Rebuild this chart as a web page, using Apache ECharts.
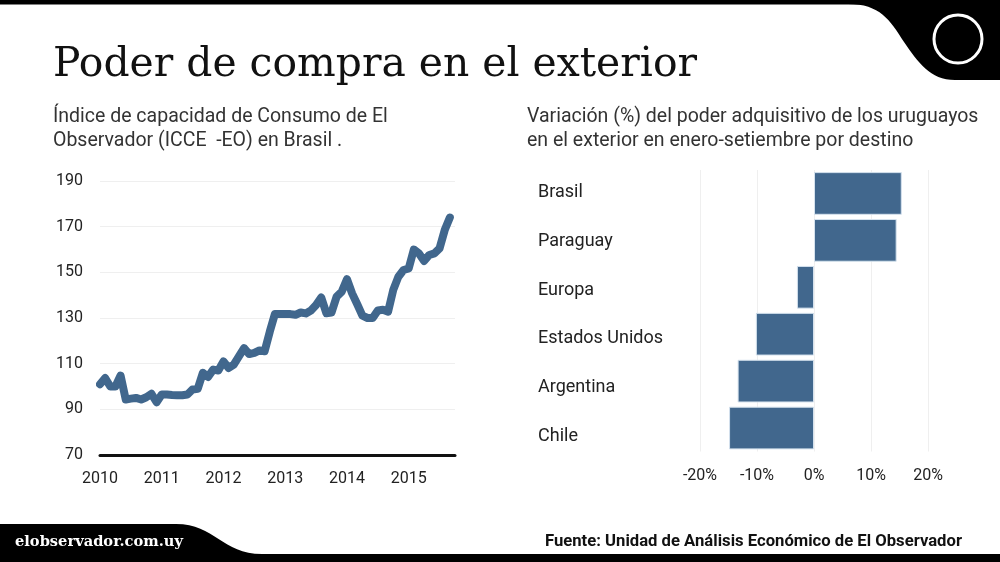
<!DOCTYPE html>
<html>
<head>
<meta charset="utf-8">
<script src="https://cdn.jsdelivr.net/npm/echarts@6/dist/echarts.min.js"></script>
<style>
  html, body { margin: 0; padding: 0; background: #fff; }
  #chart { width: 1000px; height: 562px; }
</style>
</head>
<body>
<div id="chart"></div>
<script>
// ---------- DATA ----------
const yearTicks = ['2010', '2011', '2012', '2013', '2014', '2015'];
const iccValues = [
  101, 103.7, 100, 100, 104.8, 94.3, 94.7, 95, 94.3, 95.3, 96.8, 93.1,
  96.5, 96.5, 96.3, 96.2, 96.2, 96.5, 98.7, 99, 106, 104.2, 107.4, 107,
  111, 108.1, 109.6, 113.2, 116.8, 114.2, 114.7, 115.8, 115.4, 124, 131.8, 131.8,
  131.8, 131.7, 131.4, 132.4, 132, 133.3, 135.7, 139, 132.1, 132.4, 139.4, 141.6,
  147, 140.8, 136, 131, 130, 130, 133.3, 133.6, 132.8, 142.3, 148.1, 151,
  151.7, 160, 158.3, 155, 157.6, 158.3, 160.5, 168.5, 174
];
const destinations = ['Brasil', 'Paraguay', 'Europa', 'Estados Unidos', 'Argentina', 'Chile'];
const variation = [15.4, 14.5, -3.0, -10.2, -13.4, -14.9];

// month categories Jan 2010 .. Oct 2015
const months = [];
yearTicks.forEach(y => { for (let m = 1; m <= 12; m++) months.push(y + '-' + (m < 10 ? '0' + m : m)); });
const monthCats = months.slice(0, 70);

// ---------- helpers ----------
const mctx = document.createElement('canvas').getContext('2d');
function fitScale(text, font, target) {
  mctx.font = font;
  const w = mctx.measureText(text).width;
  return w > 0 ? target / w : 1;
}

// decorative shapes (header corner, footer band)
echarts.graphic.registerShape('hdrShape', echarts.graphic.extendPath(
  'M840,0 L1000,0 L1000,80 L955,80 C930,80 918,62 904,42 C890,20 880,4 848,4 Z', {}));
echarts.graphic.registerShape('ftrShape', echarts.graphic.extendPath(
  'M0,524 L176,524 C215,524 222,554 262,554 L1000,554 L1000,562 L0,562 Z', {}));

const TITLE = 'Poder de compra en el exterior';
const titleFont = '41px "DejaVu Serif"';
const SITE = 'elobservador.com.uy';
const siteFont = 'bold 15px "DejaVu Serif"';
const SRC = 'Fuente: Unidad de Análisis Económico de El Observador';
const srcFont = 'bold 17px Roboto';
const subFont = '19.5px Roboto';

const blue = '#41678d';
const txt = '#222';

const chart = echarts.init(document.getElementById('chart'), null, { renderer: 'canvas' });

const option = {
  backgroundColor: '#fff',
  animation: false,
  grid: [
    { left: 100, right: 545, top: 181, bottom: 107 },
    { left: 700, right: 72, top: 170, bottom: 110.5 },
    // label track for the destination names (slightly wider spacing than bars, as in the source)
    { left: 700, right: 72, top: 168.4, bottom: 101.5 }
  ],
  xAxis: [
    {
      type: 'category', gridIndex: 0, data: monthCats, boundaryGap: false,
      axisLine: { lineStyle: { color: '#111', width: 3 } },
      axisTick: { show: false },
      axisLabel: {
        interval: 11, margin: 16, color: txt, fontSize: 16, fontFamily: 'Roboto',
        formatter: v => v.slice(0, 4)
      },
      splitLine: { show: false }
    },
    {
      type: 'value', gridIndex: 1, min: -20, max: 20, interval: 10,
      axisLine: { show: false }, axisTick: { show: false },
      axisLabel: { margin: 16, color: txt, fontSize: 16, fontFamily: 'Roboto', formatter: '{value}%' },
      splitLine: { lineStyle: { color: '#efefef', width: 1 } }
    },
    {
      type: 'value', gridIndex: 2, min: -20, max: 20, show: false
    }
  ],
  yAxis: [
    {
      type: 'value', gridIndex: 0, min: 70, max: 190, interval: 20,
      axisLine: { show: false }, axisTick: { show: false },
      axisLabel: { margin: 17, color: txt, fontSize: 16, fontFamily: 'Roboto' },
      splitLine: { lineStyle: { color: '#efefef', width: 1 } }
    },
    {
      type: 'category', gridIndex: 1, data: destinations, inverse: true,
      axisLine: { show: false }, axisTick: { show: false },
      axisLabel: { show: false },
      splitLine: { show: false }
    },
    {
      type: 'category', gridIndex: 2, data: destinations, inverse: true,
      axisLine: { show: false }, axisTick: { show: false },
      axisLabel: { margin: 162, align: 'left', color: txt, fontSize: 18, fontFamily: 'Roboto' },
      splitLine: { show: false }
    }
  ],
  series: [
    {
      type: 'line', xAxisIndex: 0, yAxisIndex: 0, data: iccValues,
      showSymbol: false, symbol: 'none',
      lineStyle: { color: blue, width: 8, cap: 'round', join: 'round' },
      z: 3
    },
    {
      type: 'bar', xAxisIndex: 1, yAxisIndex: 1, data: variation,
      barCategoryGap: '9%',
      itemStyle: { color: blue, borderColor: '#d5e2ee', borderWidth: 1 }
    }
  ],
  graphic: [
    { type: 'rect', shape: { x: 0, y: 0, width: 1000, height: 4.5 }, style: { fill: '#000' }, z: 10 },
    { type: 'hdrShape', style: { fill: '#000' }, z: 10 },
    { type: 'circle', shape: { cx: 958, cy: 39, r: 24 }, style: { fill: 'none', stroke: '#fff', lineWidth: 3 }, z: 11 },
    { type: 'ftrShape', style: { fill: '#000' }, z: 10 },
    { type: 'text', x: 15, y: 542, scaleX: fitScale(SITE, siteFont, 168), style: { text: SITE, font: siteFont, fill: '#fff', textAlign: 'left', textVerticalAlign: 'middle' }, z: 12 },
    { type: 'text', x: 545, y: 541.5, scaleX: fitScale(SRC, srcFont, 417), style: { text: SRC, font: srcFont, fill: '#111', textAlign: 'left', textVerticalAlign: 'middle' }, z: 12 },
    { type: 'text', x: 53, y: 65, scaleX: fitScale(TITLE, titleFont, 644), style: { text: TITLE, font: titleFont, fill: '#111', textAlign: 'left', textVerticalAlign: 'middle' }, z: 12 },
    { type: 'text', x: 53, y: 117, style: { text: 'Índice de capacidad de Consumo de El', font: subFont, fill: '#333', textAlign: 'left', textVerticalAlign: 'middle' }, z: 12 },
    { type: 'text', x: 53, y: 141.5, style: { text: 'Observador (ICCE  -EO) en Brasil .', font: subFont, fill: '#333', textAlign: 'left', textVerticalAlign: 'middle' }, z: 12 },
    { type: 'text', x: 527, y: 117, style: { text: 'Variación (%) del poder adquisitivo de los uruguayos', font: subFont, fill: '#333', textAlign: 'left', textVerticalAlign: 'middle' }, z: 12 },
    { type: 'text', x: 527, y: 141.5, style: { text: 'en el exterior en enero-setiembre por destino', font: subFont, fill: '#333', textAlign: 'left', textVerticalAlign: 'middle' }, z: 12 }
  ]
};
chart.setOption(option);
</script>
</body>
</html>
